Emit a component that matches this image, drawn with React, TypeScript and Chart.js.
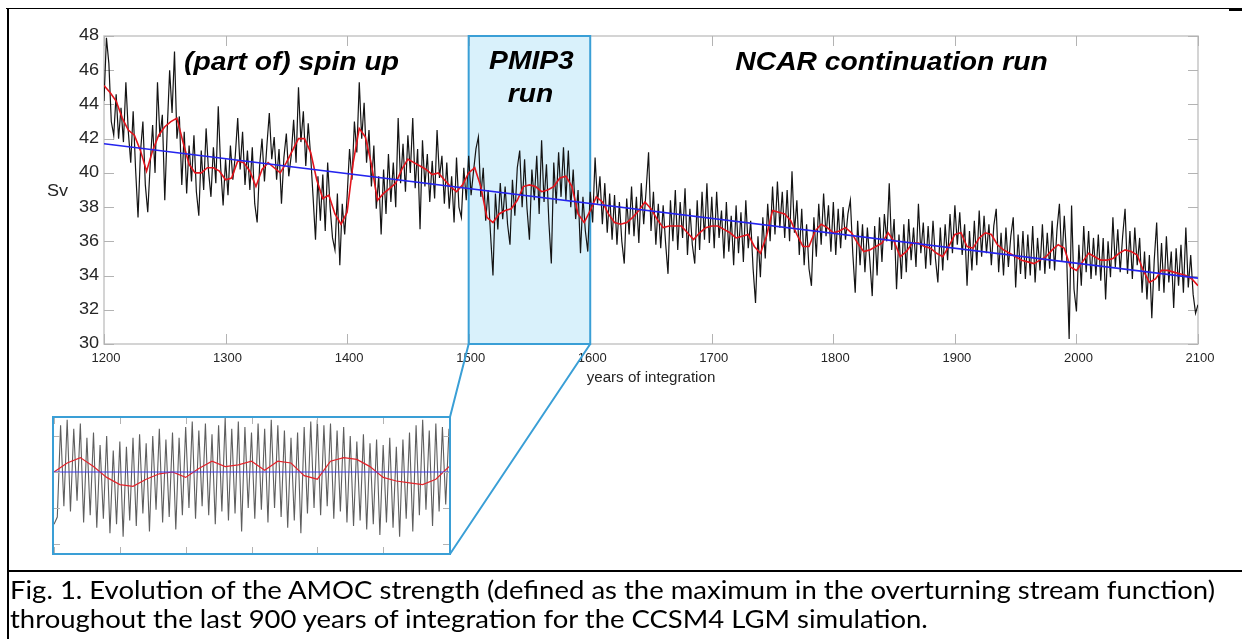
import React, { useEffect, useLayoutEffect, useRef } from "react";
import { Chart, registerables } from "chart.js";
Chart.register(...registerables);

const W = 1242;
const H = 639;
const MAIN_H = 570;

// ---------- data ----------
const xTicks = [1200, 1300, 1400, 1500, 1600, 1700, 1800, 1900, 2000, 2100];
const yTicks = [30, 32, 34, 36, 38, 40, 42, 44, 46, 48];

const annualStart = 1200;
const annualStep = 2;
const amocAnnual = [
  44.2, 47.9, 46.4, 43.0, 42.2, 44.6, 42.0, 43.8, 41.8, 45.3,
  42.4, 40.6, 43.6, 40.2, 37.4, 41.2, 43.0, 39.3, 37.7, 40.5,
  42.8, 40.0, 45.3, 42.1, 43.4, 38.4, 42.5, 46.0, 43.5, 47.1,
  42.0, 43.3, 39.3, 42.4, 38.8, 41.6, 39.5, 42.2, 38.9, 37.5,
  41.3, 39.0, 42.6, 40.1, 38.6, 41.5, 39.4, 43.9, 40.3, 38.1,
  40.8, 38.7, 41.6, 39.6, 41.0, 43.2, 40.2, 42.4, 39.3, 41.3,
  39.0, 41.5, 38.2, 37.1, 40.4, 42.0, 39.5, 41.6, 43.5, 40.8,
  42.1, 39.6, 41.4, 38.2, 40.9, 42.3, 39.8, 41.0, 43.1, 40.6,
  45.0, 41.8, 43.6, 40.4, 42.9, 41.0, 38.6, 36.1, 39.8, 37.2,
  39.9, 36.6, 40.6, 38.0, 36.2, 35.5, 38.8, 34.6, 38.2, 36.4,
  38.6, 41.4, 39.6, 43.0, 41.2, 45.3, 42.0, 44.1, 40.6, 42.5,
  39.2, 41.6, 37.9, 39.8, 36.4, 40.2, 37.6, 41.1, 38.3, 40.6,
  38.0, 43.2, 39.4, 41.7, 38.9, 42.2, 40.0, 43.2, 39.1, 41.4,
  36.7, 41.9, 39.2, 41.1, 38.3, 40.7, 38.5, 42.5, 39.7, 41.0,
  38.2, 40.6, 37.9, 39.8, 37.1, 40.9, 38.0, 37.4, 40.3, 38.4,
  41.0, 38.7, 40.1, 41.4, 42.1, 38.6, 40.3, 37.2, 39.0, 36.4,
  34.0, 38.8, 36.7, 39.4, 37.3, 39.2, 37.0, 35.8, 39.6, 37.5,
  40.3, 41.3, 38.0, 40.8, 37.9, 36.1, 40.2, 38.4, 41.0, 37.6,
  41.9, 38.3, 40.5, 37.1, 34.7, 40.6, 38.2, 41.2, 38.6, 41.5,
  38.4, 41.3, 38.0, 40.2, 37.3, 39.0, 35.3, 38.6, 36.6, 35.4,
  38.9, 37.1, 40.9, 38.2, 39.8, 37.0, 39.4, 36.5, 38.8, 36.1,
  38.7, 35.8, 38.3, 36.0, 34.7, 38.5, 36.4, 39.2, 36.3, 38.6,
  35.9, 39.4, 37.0, 39.0, 41.2, 36.6, 38.9, 35.8, 38.2, 35.6,
  38.1, 35.9, 34.1, 38.4, 36.0, 39.0, 35.5, 38.3, 36.2, 39.1,
  35.2, 37.9, 35.8, 34.7, 38.4, 35.5, 38.9, 36.1, 39.4, 35.9,
  38.6, 35.6, 38.9, 36.2, 37.8, 35.0, 38.3, 35.4, 37.5, 34.6,
  38.1, 35.3, 37.7, 34.8, 38.4, 35.6, 37.2, 34.4, 32.4, 36.3,
  33.9, 37.4, 35.0, 38.2, 36.0, 39.2, 36.4, 39.5, 36.8, 38.9,
  36.2, 39.0, 36.0, 40.1, 36.5, 38.4, 35.2, 37.9, 34.6, 37.0,
  34.4, 33.4, 37.4, 35.1, 38.2, 35.8, 38.8, 36.3, 38.1, 35.4,
  38.3, 35.2, 37.9, 35.6, 38.0, 36.1, 37.6, 38.4, 35.3, 33.0,
  37.2, 34.6, 37.0, 34.2, 36.8, 34.9, 32.8, 36.9, 34.0, 37.4,
  34.8, 37.6, 36.0, 39.4, 35.5, 37.3, 33.2, 36.4, 33.8, 37.0,
  34.2, 37.3, 34.9, 36.8, 34.5, 38.2, 35.3, 37.1, 34.4, 36.9,
  34.6, 37.2, 35.0, 33.6, 36.8, 34.3, 37.0, 34.9, 37.6, 35.3,
  38.1, 35.8, 37.7, 35.2, 37.0, 33.4, 36.6, 34.3, 37.2, 34.6,
  37.8, 35.1, 37.5, 35.3, 37.0, 34.6, 36.9, 37.9, 34.2, 36.5,
  34.0, 36.8, 34.5, 36.3, 37.4, 33.3, 36.4, 34.1, 36.6, 33.8,
  36.4, 34.0, 36.9, 33.6, 36.2, 34.3, 37.0, 34.1, 36.5, 34.4,
  37.2, 34.3, 36.7, 38.2, 34.8, 37.5, 35.0, 30.3, 38.1, 33.2,
  31.9, 35.8, 33.4, 36.9, 34.2, 36.6, 33.8, 36.2, 34.0, 36.4,
  33.7, 36.2, 32.6, 36.0, 33.9, 37.4, 34.5, 36.7, 34.2, 36.3,
  37.9, 34.1, 36.6, 33.8, 36.8, 34.6, 36.2, 33.0, 35.4, 32.6,
  35.2, 31.5, 34.9, 37.1, 33.1, 35.9, 33.0, 36.3, 33.6, 35.4,
  32.1, 35.6, 33.4, 35.8, 33.0, 36.8, 33.3, 35.2, 32.9, 31.8,
  32.3,
];

const smoothStart = 1200;
const smoothStep = 5;
const amocSmooth = [
  45.1, 44.7, 44.2, 43.2, 42.5, 42.2, 41.3, 40.1, 41.3, 42.2,
  42.7, 43.0, 43.2, 41.8, 40.5, 40.0, 40.0, 40.3, 40.3, 40.1,
  39.6, 39.7, 40.7, 40.6, 40.1, 39.2, 40.2, 40.6, 40.3, 40.0,
  40.6, 41.3, 42.0, 42.0, 41.2, 39.6, 38.5, 38.7, 37.6, 37.0,
  37.7, 40.6, 42.6, 42.1, 40.5, 38.4, 38.8, 39.1, 39.4, 40.2,
  40.8, 40.6, 40.4, 40.2, 39.9, 40.0, 39.6, 39.2, 38.9, 39.3,
  40.0, 40.3, 39.2, 37.4, 37.1, 37.6, 37.8, 37.9, 38.4, 39.2,
  39.3, 39.2, 38.9, 39.0, 39.2, 39.7, 39.8, 39.2, 37.6, 37.1,
  37.8, 38.6, 38.3, 37.6, 37.1, 37.0, 37.1, 37.4, 37.8, 38.3,
  37.9, 37.3, 36.8, 36.9, 36.9, 36.9, 36.5, 36.1, 36.5, 36.8,
  36.9, 36.9, 36.7, 36.5, 36.2, 36.3, 36.4, 35.7, 35.3, 36.3,
  37.8, 37.7, 37.6, 37.2, 36.4, 35.7, 35.7, 36.6, 37.0, 36.8,
  36.5, 36.6, 36.8, 36.5, 35.9, 35.4, 35.5, 35.7, 35.9, 36.5,
  36.0, 35.1, 35.4, 35.9, 35.9, 35.7, 35.6, 35.3, 35.1, 35.7,
  36.4, 36.5, 35.7, 35.6, 36.2, 36.5, 36.4, 35.8, 35.5, 35.3,
  35.1, 34.9, 34.8, 34.7, 34.9, 35.1, 35.5, 35.8, 35.6, 34.5,
  34.3, 34.8, 35.3, 35.1, 34.9, 34.9, 35.0, 35.3, 35.5, 35.4,
  35.2, 34.3, 33.6, 33.8, 34.3, 34.3, 34.2, 34.1, 34.0, 33.8,
  33.4,
];

const trendYears = [1200, 2100];
const trendValues = [41.7, 33.85];

const pmipRange = [1500, 1600];

// inset (PMIP3 run, magnified)
const insetXTicks = [0, 20, 40, 60, 80, 100, 120];
const insetYTicks = [-4, -2, 0, 2];
const insetAnnual = [
  -2.9, -2.5, 2.6, -1.9, 2.9, -2.2, 2.4, -1.6, 2.7, -2.8,
  1.9, -2.4, 2.2, -3.1, 1.5, -2.6, 2.0, -3.4, 1.2, -2.9,
  1.7, -3.6, 1.4, -2.7, 1.9, -3.0, 2.1, -2.3, 1.6, -3.3,
  2.0, -2.1, 2.4, -2.8, 1.8, -2.5, 2.2, -3.2, 1.9, -2.4,
  2.5, -2.0, 2.8, -2.6, 2.3, -1.9, 2.7, -2.4, 2.1, -2.9,
  2.6, -2.2, 3.0, -2.7, 2.4, -2.3, 2.8, -3.3, 2.5, -2.0,
  2.2, -2.6, 2.7, -2.1, 2.4, -2.8, 2.9, -2.0, 2.6, -2.5,
  2.3, -3.1, 1.9, -2.7, 2.2, -3.4, 2.5, -2.3, 2.8, -2.0,
  2.9, -2.4, 2.6, -1.9, 2.7, -2.6, 2.3, -2.2, 2.5, -2.8,
  2.0, -3.0, 1.7, -2.7, 2.1, -3.2, 1.6, -2.9, 1.8, -3.5,
  1.5, -2.8, 1.9, -3.1, 1.4, -3.6, 1.8, -2.6, 2.2, -3.3,
  2.6, -2.4, 2.9, -2.1, 2.3, -3.0, 2.7, -2.2, 2.5, -1.8,
  2.4,
];
const insetSmoothStep = 4;
const insetSmooth = [
  0.0, 0.5, 0.8, 0.3, -0.3, -0.7, -0.8, -0.4, -0.1, 0.0,
  -0.3, 0.2, 0.6, 0.3, 0.4, 0.6, 0.1, 0.6, 0.5, -0.2,
  -0.4, 0.6, 0.8, 0.7, 0.3, -0.3, -0.5, -0.6, -0.7, -0.4,
  0.3,
];
const insetTrendX = [0, 120];
const insetTrendValues = [0, 0];

// ---------- layout / style ----------
const INSET = { left: 52, top: 416, width: 399, height: 139 };
const SANS = '"Liberation Sans", Arial, Helvetica, sans-serif';
const BOX_BLUE = "#3a9fd6";
const AXIS_GRAY = "#c6c6c6";
const TICK_GRAY = "#b3b3b3";
const LABEL = "#262626";

function drawText(
  ctx: CanvasRenderingContext2D,
  s: string,
  x: number,
  y: number,
  font: string,
  align: CanvasTextAlign,
  baseline: CanvasTextBaseline,
  sx = 1,
  color = LABEL
) {
  ctx.save();
  ctx.font = font;
  ctx.fillStyle = color;
  ctx.textAlign = align;
  ctx.textBaseline = baseline;
  ctx.translate(x, y);
  ctx.scale(sx, 1);
  ctx.fillText(s, 0, 0);
  ctx.restore();
}

function MainChart() {
  const ref = useRef<HTMLCanvasElement>(null);
  useEffect(() => {
    const canvas = ref.current!;
    const decor = {
      id: "decor",
      beforeDatasetsDraw(chart: any) {
        const { ctx, chartArea: a, scales } = chart;
        const x = scales.x, y = scales.y;
        const x0 = x.getPixelForValue(pmipRange[0]);
        const x1 = x.getPixelForValue(pmipRange[1]);
        ctx.save();
        ctx.fillStyle = "#d9f1fb";
        ctx.fillRect(x0, a.top, x1 - x0, a.bottom - a.top);
        ctx.strokeStyle = AXIS_GRAY;
        ctx.lineWidth = 1.5;
        ctx.strokeRect(a.left, a.top, a.right - a.left, a.bottom - a.top);
        ctx.strokeStyle = TICK_GRAY;
        ctx.lineWidth = 1;
        ctx.beginPath();
        xTicks.forEach((t) => {
          const px = Math.round(x.getPixelForValue(t)) + 0.5;
          ctx.moveTo(px, a.bottom);
          ctx.lineTo(px, a.bottom - 10);
          ctx.moveTo(px, a.top);
          ctx.lineTo(px, a.top + 10);
        });
        yTicks.forEach((t) => {
          const py = Math.round(y.getPixelForValue(t)) + 0.5;
          ctx.moveTo(a.left, py);
          ctx.lineTo(a.left + 10, py);
          ctx.moveTo(a.right, py);
          ctx.lineTo(a.right - 10, py);
        });
        ctx.stroke();
        ctx.strokeStyle = BOX_BLUE;
        ctx.lineWidth = 2;
        ctx.strokeRect(x0, a.top, x1 - x0, a.bottom - a.top);
        ctx.restore();
      },
      afterDatasetsDraw(chart: any) {
        const { ctx, chartArea: a, scales } = chart;
        const x = scales.x, y = scales.y;
        const x0 = x.getPixelForValue(pmipRange[0]);
        const x1 = x.getPixelForValue(pmipRange[1]);
        yTicks.forEach((t) => {
          drawText(ctx, String(t), a.left - 5, y.getPixelForValue(t), `16px ${SANS}`, "right", "middle", 1.13);
        });
        xTicks.forEach((t) => {
          drawText(ctx, String(t), x.getPixelForValue(t) + 2, a.bottom + 14, `13px ${SANS}`, "center", "middle", 1.0);
        });
        drawText(ctx, "Sv", 57.5, (a.top + a.bottom) / 2 + 2, `16px ${SANS}`, "center", "middle", 1.13);
        drawText(ctx, "years of integration", (a.left + a.right) / 2, a.bottom + 34, `14px ${SANS}`, "center", "middle", 1.08);
        const bi = `italic bold 25px ${SANS}`;
        drawText(ctx, "(part of) spin up", 291.5, 70, bi, "center", "alphabetic", 1.13, "#000");
        drawText(ctx, "PMIP3", (x0 + x1) / 2 + 2, 68.5, bi, "center", "alphabetic", 1.13, "#000");
        drawText(ctx, "run", (x0 + x1) / 2 + 1, 102, bi, "center", "alphabetic", 1.13, "#000");
        drawText(ctx, "NCAR continuation run", 891.5, 70, bi, "center", "alphabetic", 1.13, "#000");
        ctx.save();
        ctx.strokeStyle = BOX_BLUE;
        ctx.lineWidth = 2;
        ctx.beginPath();
        ctx.moveTo(x0, a.bottom);
        ctx.lineTo(INSET.left + INSET.width - 1, INSET.top + 1);
        ctx.moveTo(x1, a.bottom);
        ctx.lineTo(INSET.left + INSET.width - 1, INSET.top + INSET.height - 1);
        ctx.stroke();
        ctx.restore();
      },
    };

    const chart = new Chart(canvas, {
      type: "line",
      data: {
        datasets: [
          {
            data: trendYears.map((yr, i) => ({ x: yr, y: trendValues[i] })),
            borderColor: "#2424ee",
            borderWidth: 1.6,
            pointRadius: 0,
          },
          {
            data: amocSmooth.map((v, i) => ({ x: smoothStart + i * smoothStep, y: v })),
            borderColor: "#e3141c",
            borderWidth: 1.6,
            pointRadius: 0,
          },
          {
            data: amocAnnual.map((v, i) => ({ x: annualStart + i * annualStep, y: v })),
            borderColor: "#141414",
            borderWidth: 1.2,
            pointRadius: 0,
          },
        ],
      },
      options: {
        animation: false,
        responsive: false,
        devicePixelRatio: 1,
        events: [],
        layout: { padding: { left: 104, right: 44, top: 36, bottom: MAIN_H - 344 } },
        plugins: { legend: { display: false }, tooltip: { enabled: false } },
        elements: { line: { tension: 0 }, point: { radius: 0 } },
        scales: {
          x: { type: "linear", min: 1200, max: 2100, display: false },
          y: { type: "linear", min: 30, max: 48, display: false },
        },
      } as any,
      plugins: [decor],
    });
    return () => chart.destroy();
  }, []);
  return (
    <canvas
      ref={ref}
      width={W}
      height={MAIN_H}
      style={{ position: "absolute", left: 0, top: 0, width: W, height: MAIN_H }}
    />
  );
}

function InsetChart() {
  const ref = useRef<HTMLCanvasElement>(null);
  useEffect(() => {
    const canvas = ref.current!;
    const frame = {
      id: "insetFrame",
      afterDatasetsDraw(chart: any) {
        const { ctx, chartArea: a, scales } = chart;
        const x = scales.x, y = scales.y;
        ctx.save();
        ctx.strokeStyle = TICK_GRAY;
        ctx.lineWidth = 1;
        ctx.beginPath();
        insetXTicks.forEach((t) => {
          const px = Math.round(x.getPixelForValue(t)) + 0.5;
          ctx.moveTo(px, a.bottom);
          ctx.lineTo(px, a.bottom - 6);
          ctx.moveTo(px, a.top);
          ctx.lineTo(px, a.top + 6);
        });
        insetYTicks.forEach((t) => {
          const py = Math.round(y.getPixelForValue(t)) + 0.5;
          ctx.moveTo(a.left, py);
          ctx.lineTo(a.left + 6, py);
          ctx.moveTo(a.right, py);
          ctx.lineTo(a.right - 6, py);
        });
        ctx.stroke();
        ctx.strokeStyle = BOX_BLUE;
        ctx.lineWidth = 2;
        ctx.strokeRect(1, 1, INSET.width - 2, INSET.height - 2);
        ctx.restore();
      },
    };
    const chart = new Chart(canvas, {
      type: "line",
      data: {
        datasets: [
          {
            data: insetTrendX.map((v, i) => ({ x: v, y: insetTrendValues[i] })),
            borderColor: "#3b3bf0",
            borderWidth: 1,
            pointRadius: 0,
          },
          {
            data: insetSmooth.map((v, i) => ({ x: i * insetSmoothStep, y: v })),
            borderColor: "#e3242b",
            borderWidth: 1.2,
            pointRadius: 0,
          },
          {
            data: insetAnnual.map((v, i) => ({ x: i, y: v })),
            borderColor: "rgba(40,40,40,0.75)",
            borderWidth: 1.1,
            pointRadius: 0,
          },
        ],
      },
      options: {
        animation: false,
        responsive: false,
        devicePixelRatio: 1,
        events: [],
        layout: { padding: 2 },
        plugins: { legend: { display: false }, tooltip: { enabled: false } },
        elements: { line: { tension: 0 }, point: { radius: 0 } },
        scales: {
          x: { type: "linear", min: 0, max: 120, display: false },
          y: { type: "linear", min: -4.5, max: 3.0, display: false },
        },
      } as any,
      plugins: [frame],
    });
    return () => chart.destroy();
  }, []);
  return (
    <canvas
      ref={ref}
      width={INSET.width}
      height={INSET.height}
      style={{
        position: "absolute",
        left: INSET.left,
        top: INSET.top,
        width: INSET.width,
        height: INSET.height,
        background: "#fff",
      }}
    />
  );
}

const captionLines = [
  "Fig. 1. Evolution of the AMOC strength (defined as the maximum in the overturning stream function)",
  "throughout the last 900 years of integration for the CCSM4 LGM simulation.",
];
const CAPTION_WIDTH = 1205;

function Caption() {
  const r1 = useRef<HTMLDivElement>(null);
  const r2 = useRef<HTMLDivElement>(null);
  useLayoutEffect(() => {
    const fit = () => {
      const a = r1.current, b = r2.current;
      if (!a || !b) return;
      a.style.transform = "none";
      b.style.transform = "none";
      const w = a.getBoundingClientRect().width;
      const s = CAPTION_WIDTH / w;
      a.style.transform = `scaleX(${s})`;
      b.style.transform = `scaleX(${s})`;
    };
    fit();
    (document as any).fonts?.ready?.then(fit);
  }, []);
  const base: React.CSSProperties = {
    position: "absolute",
    left: 10,
    whiteSpace: "nowrap",
    width: "max-content",
    fontFamily: "Lato, 'Open Sans', sans-serif",
    fontSize: 25,
    lineHeight: "25px",
    color: "#000",
    transformOrigin: "0 0",
  };
  return (
    <>
      <div ref={r1} style={{ ...base, top: 577 }}>{captionLines[0]}</div>
      <div ref={r2} style={{ ...base, top: 606 }}>{captionLines[1]}</div>
    </>
  );
}

export default function App() {
  return (
    <div
      style={{
        position: "fixed",
        left: 0,
        top: 0,
        width: W,
        height: H,
        background: "#fff",
        overflow: "hidden",
      }}
    >
      <MainChart />
      <InsetChart />
      <div style={{ position: "absolute", left: 6, top: 7.5, width: W - 6, height: 1.7, background: "#000" }} />
      <div style={{ position: "absolute", left: 1229, top: 8, width: 13, height: 2.5, background: "#000" }} />
      <div style={{ position: "absolute", left: 6.5, top: 7.5, width: 2, height: H, background: "#000" }} />
      <div style={{ position: "absolute", left: 6.5, top: 569.5, width: W, height: 2.5, background: "#000" }} />
      <Caption />
    </div>
  );
}
